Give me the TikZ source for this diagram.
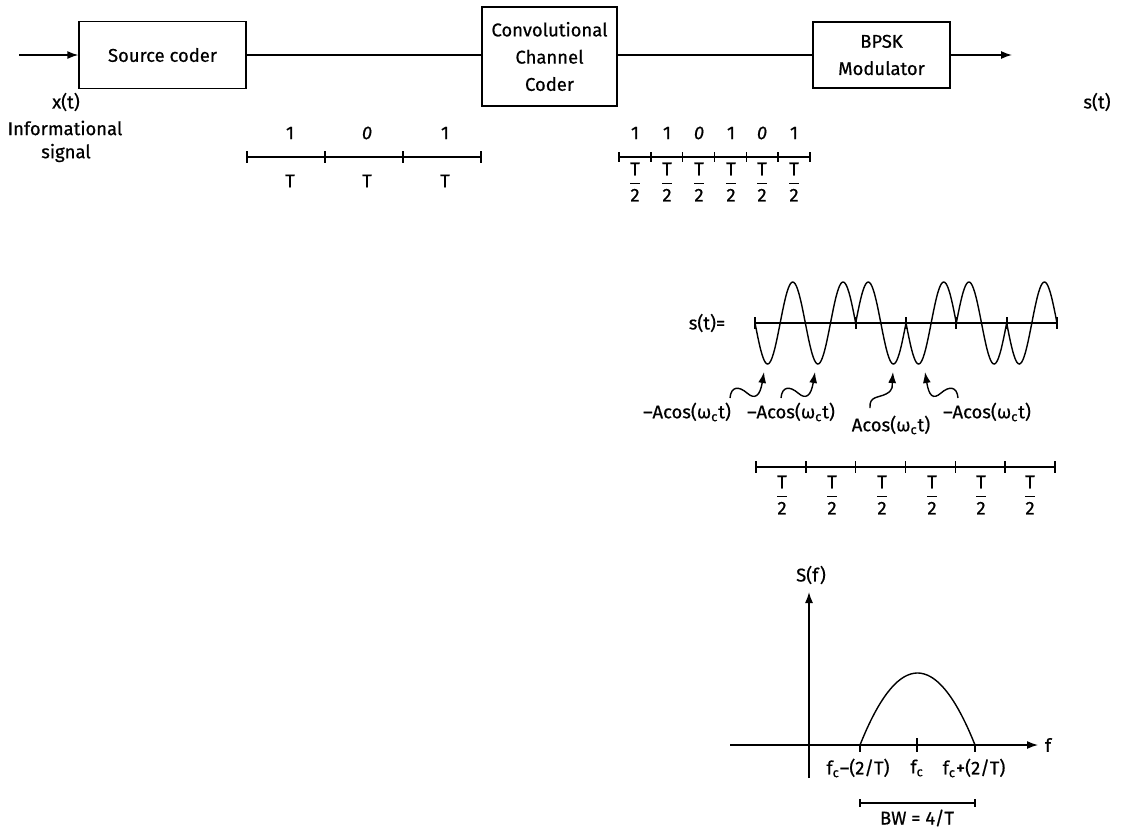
\documentclass[tikz,border=0pt]{standalone}
\usepackage{amsmath}
\usepackage{fontspec}
\setmainfont{Fira Sans}[FakeBold=0.6]
\usetikzlibrary{arrows.meta}
\begin{document}
\begin{tikzpicture}[x=0.02cm,y=-0.02cm,
  every node/.style={font=\fontsize{10.5}{12.5}\selectfont},
  blk/.style={draw,line width=0.8pt,align=center,inner sep=0pt},
  ln/.style={line width=0.8pt},
  arr/.style={line width=0.8pt,-{Latex[length=0.22cm,width=0.16cm]}},
  lbl/.style={inner sep=1pt,align=center}]
\useasboundingbox (0,0) rectangle (1121,829);

% block diagram
\coordinate (in) at (19,55);
\coordinate (out) at (1012,55);
\node[blk,minimum width=3.34cm,minimum height=1.34cm] (src) at (162.5,55) {Source coder};
\node[blk,minimum width=2.7cm,minimum height=1.98cm] (conv) at (549.5,56.5) {Convolutional\\[3pt]Channel\\[3pt]Coder};
\node[blk,minimum width=2.74cm,minimum height=1.32cm] (bpsk) at (881.5,55) {BPSK\\[3pt]Modulator};
\draw[arr] (in) -- (src.west);
\draw[ln] (src.east) -- (src.east -| conv.west);
\draw[ln] (bpsk.west -| conv.east) -- (bpsk.west);
\draw[arr] (bpsk.east) -- (out);
\node[lbl] (xt) at (66,102) {x(t)};
\node[lbl] (info) at (65,128) {Informational};
\node[lbl] (sig) at (66,153) {signal};
\node[lbl] (st) at (1097,102) {s(t)};

% timeline 1
\draw[ln] (247,157) -- (481,157);
\foreach \x in {247,325,403,481} \draw[ln] (\x,151) -- (\x,163);
\foreach \x/\b in {290/1,367/{\itshape 0},445/1} {
  \node[lbl] (b1\x) at (\x,133) {\b};
  \node[lbl] (t1\x) at (\x,181) {T};
}

% timeline 2
\draw[ln] (619,157) -- (810,157);
\foreach \i in {0,...,6} \draw[ln] ({619+\i*31.83},152) -- ({619+\i*31.83},162);
\foreach \x/\b in {635/1,667/1,699/{\itshape 0},731/1,762/{\itshape 0},794/1} {
  \node[lbl] (b2\x) at (\x,133) {\b};
  \node[lbl,inner sep=0pt] (f2\x) at (\x,182) {$\dfrac{\text{T}}{\text{2}}$};
}

% BPSK waveform
\node[lbl] (steq) at (707,323) {s(t)=};
\draw[ln] (755,323) -- (1057,323);
\foreach \x in {755,856,906,956,1007,1057} \draw[ln] (\x,317) -- (\x,329);
\foreach \i/\s in {0/1,1/1,2/-1,3/1,4/-1,5/1}
  \draw[ln] plot[domain=0:50.33,samples=45,smooth] ({755+\i*50.33+\x},{323+\s*41*sin(7.1528*\x)});

% labels with wavy arrows
\node[lbl] (a1) at (687,412) {–Acos(ω\textsubscript{c}t)};
\node[lbl] (a2) at (791,412) {–Acos(ω\textsubscript{c}t)};
\node[lbl] (a3) at (891,425) {Acos(ω\textsubscript{c}t)};
\node[lbl] (a4) at (987,412) {–Acos(ω\textsubscript{c}t)};
\coordinate (p1) at (764,372);
\coordinate (p2) at (815,372);
\coordinate (p3) at (893,372);
\coordinate (p4) at (925,372);
\draw[arr] (730,398) .. controls (731,386) and (739,386) .. (747,393) .. controls (755,400) and (760,396) .. (p1);
\draw[arr] (781,398) .. controls (782,386) and (790,386) .. (798,393) .. controls (806,400) and (811,396) .. (p2);
\draw[arr] (870,408) .. controls (869,396) and (878,398) .. (886,394) .. controls (894,390) and (892,385) .. (p3);
\draw[arr] (958,398) .. controls (957,386) and (949,386) .. (941,393) .. controls (933,400) and (929,396) .. (p4);

% timeline 3
\draw[ln] (756,467) -- (1055,467);
\foreach \i in {0,...,6} \draw[ln] ({756+\i*49.83},461) -- ({756+\i*49.83},473);
\foreach \x in {782,832,882,932,981,1030}
  \node[lbl,inner sep=0pt] (f3\x) at (\x,495) {$\dfrac{\text{T}}{\text{2}}$};

% spectrum
\coordinate (yb) at (809,778);
\coordinate (yt) at (809,592);
\coordinate (xl) at (730,745);
\coordinate (xr) at (1038,745);
\draw[arr] (yb) -- (yt);
\draw[arr] (xl) -- (xr);
\node[lbl] (Sf) at (811,575) {S(f)};
\node[lbl] (f) at (1048,745) {f};
\draw[ln] plot[domain=860:975,samples=50,smooth] (\x,{745-72*(1-((\x-917.5)/57.5)^2)});
\draw[ln] (860,745) -- (860,752);
\draw[ln] (917,738) -- (917,752);
\draw[ln] (975,745) -- (975,752);
\node[lbl] (fl) at (858,768) {f\textsubscript{c}–(2/T)};
\node[lbl] (fc) at (917,768) {f\textsubscript{c}};
\node[lbl] (fr) at (974,768) {f\textsubscript{c}+(2/T)};
\draw[line width=0.6pt] (860,803) -- (975,803);
\draw[line width=0.6pt] (860,799) -- (860,807);
\draw[line width=0.6pt] (975,799) -- (975,807);
\node[lbl] (bw) at (917,818) {BW = 4/T};
\end{tikzpicture}
\end{document}
